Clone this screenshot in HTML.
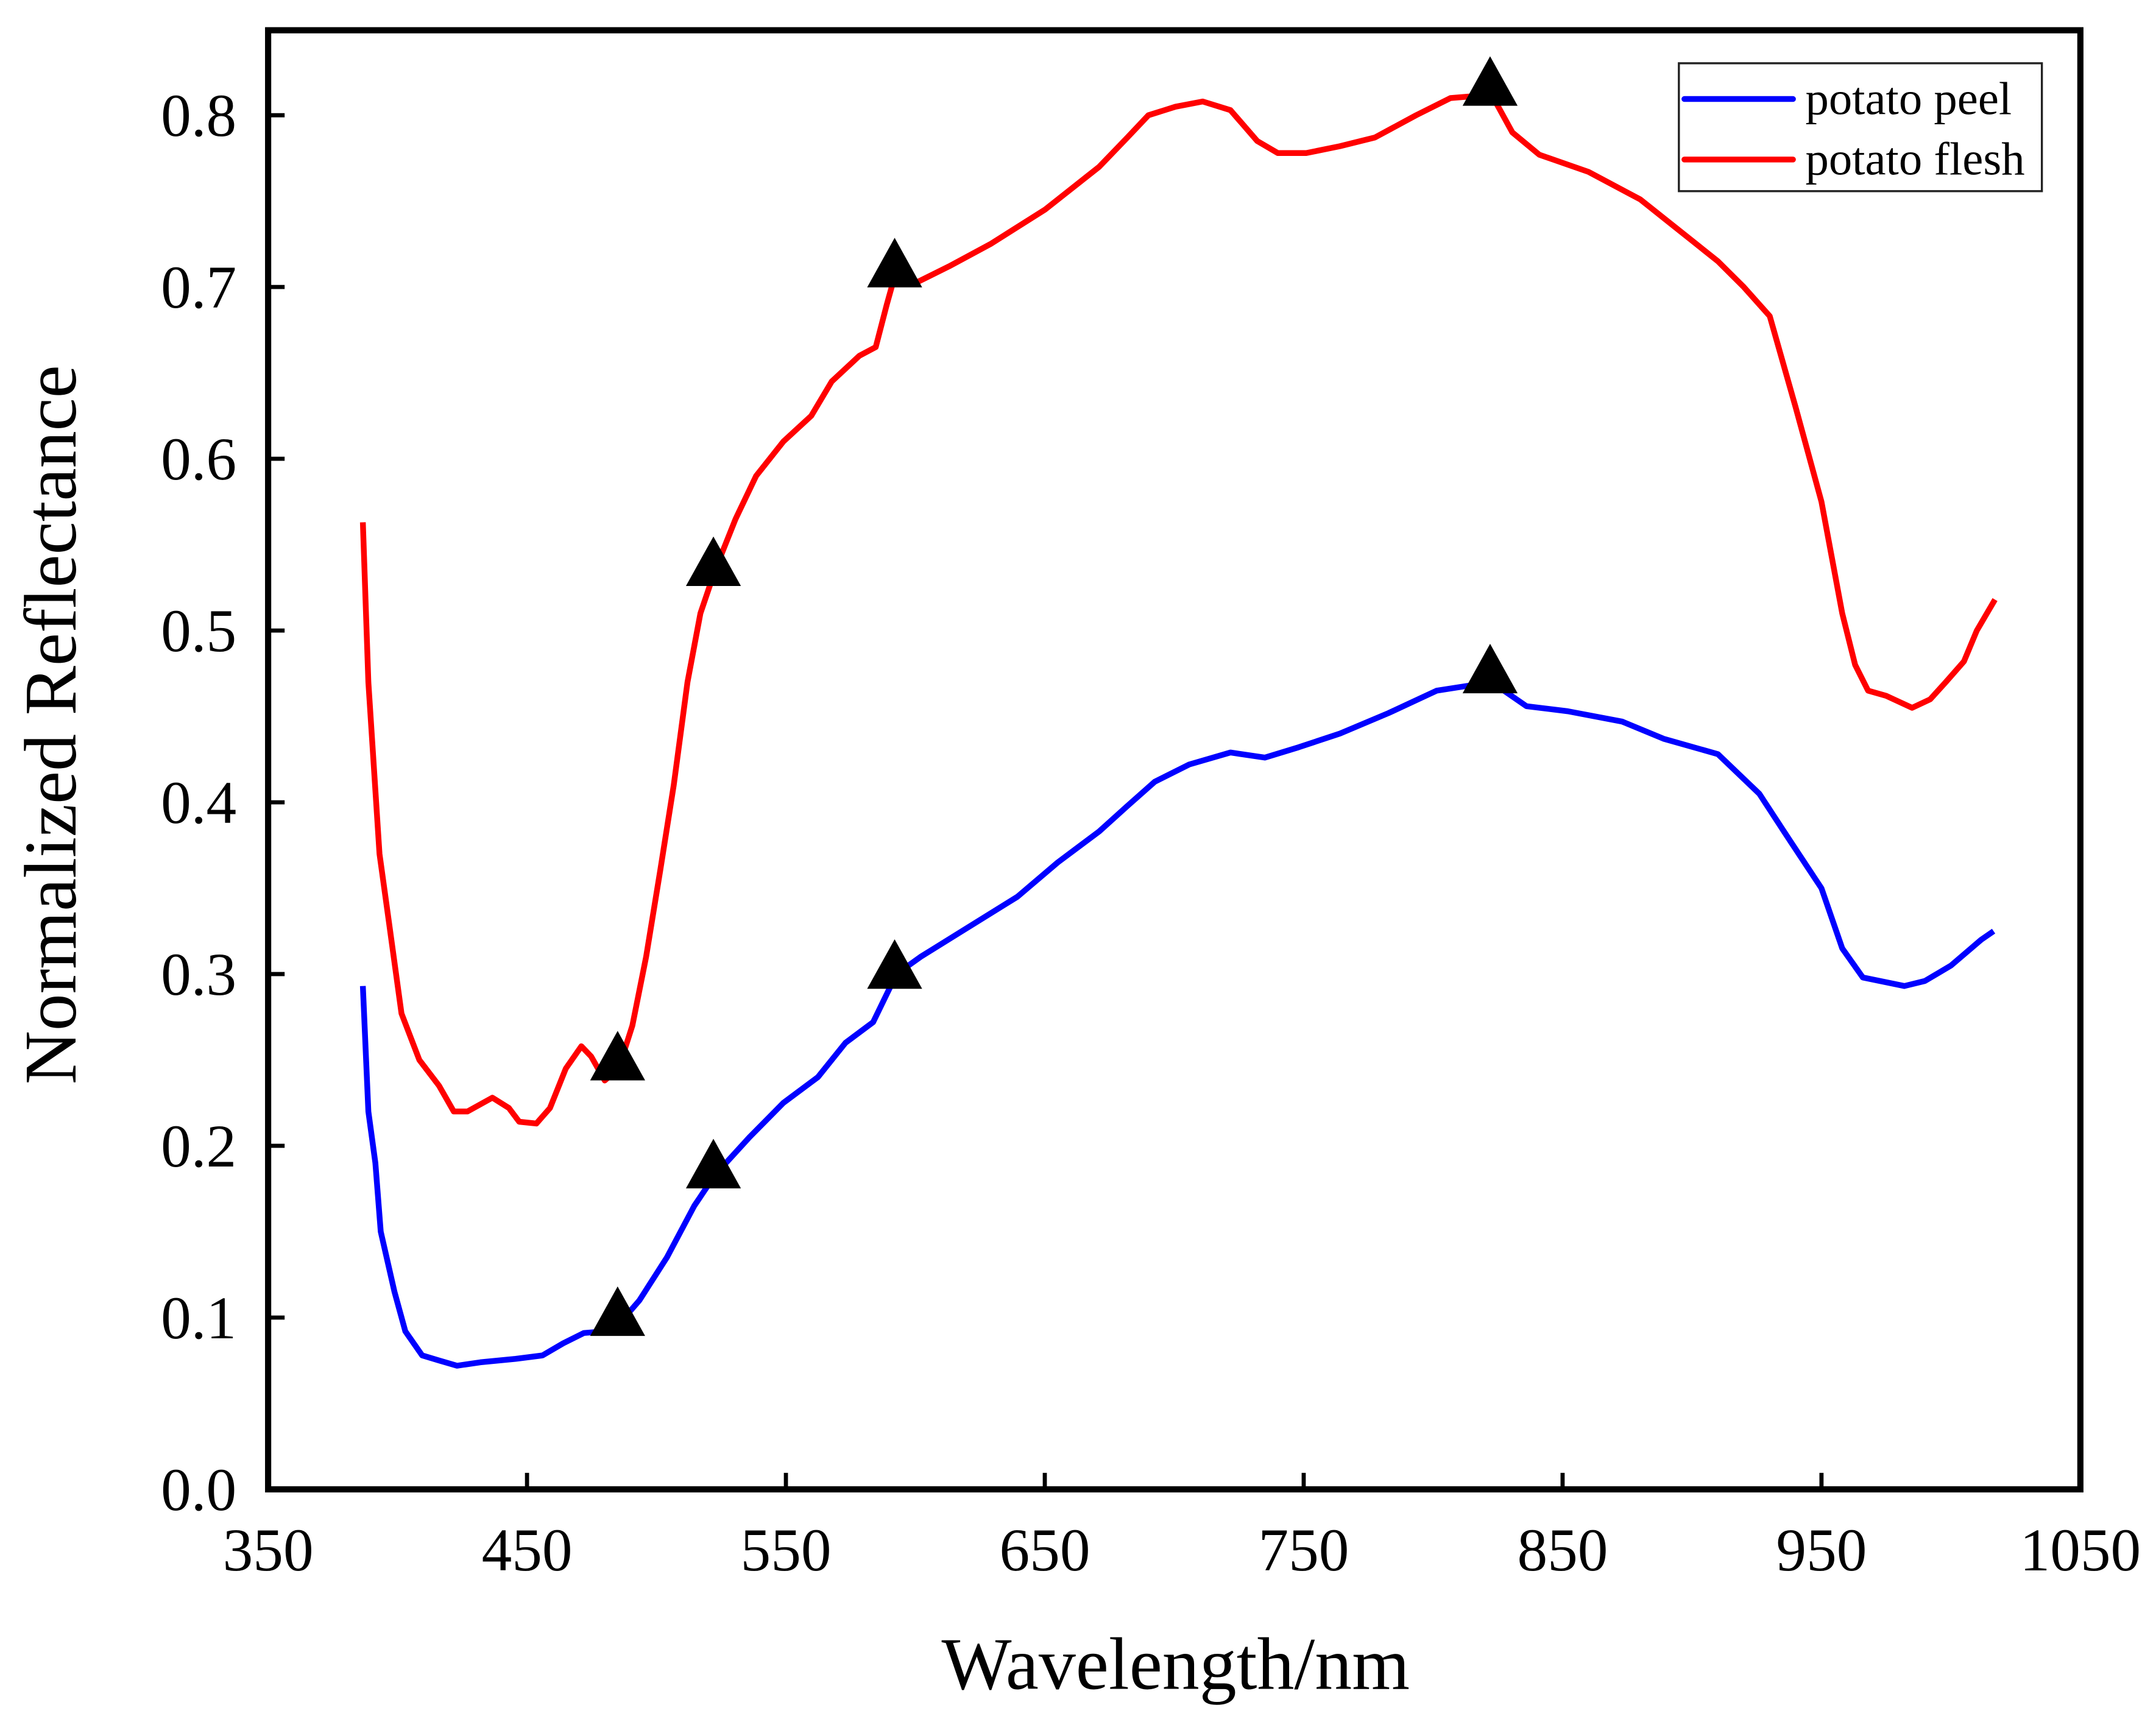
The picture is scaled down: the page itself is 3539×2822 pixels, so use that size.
<!DOCTYPE html>
<html><head><meta charset="utf-8">
<style>html,body{margin:0;padding:0;background:#fff;}svg{display:block;}</style>
</head><body>
<svg id="chart" xmlns="http://www.w3.org/2000/svg" width="3539" height="2822" viewBox="0 0 1568 1250" preserveAspectRatio="none" font-family="'Liberation Serif', serif">
<rect x="0" y="0" width="1568" height="1250" fill="#fff"/>
<g id="series"></g>
<g id="markers"></g>
<rect x="195" y="22" width="1318" height="1061" fill="none" stroke="#000" stroke-width="4.5"/>
<g id="ticks"></g>
<text x="855" y="1228" font-size="54" text-anchor="middle">Wavelength/nm</text>
<text transform="translate(55,527) rotate(-90)" font-size="54" text-anchor="middle">Normalized Reflectance</text>
<g>
<rect x="1221" y="46" width="264" height="93" fill="#fff" stroke="#222" stroke-width="1.5"/>
<line x1="1225" y1="72" x2="1304" y2="72" stroke="#0000ff" stroke-width="4.2" stroke-linecap="round"/>
<text x="1313" y="83" font-size="34">potato peel</text>
<line x1="1225" y1="116" x2="1304" y2="116" stroke="#ff0000" stroke-width="4.2" stroke-linecap="round"/>
<text x="1313" y="127" font-size="34">potato flesh</text>
</g>
</svg>
<script>
const xTicks = [350,450,550,650,750,850,950,1050];
const yTicks = [0.0,0.1,0.2,0.3,0.4,0.5,0.6,0.7,0.8];
const markerWl = [485,522,592,822];
const peelWl = [386.6,388.7,391.4,393.5,398.8,403,409.5,416,423,432,445.6,456,464,472,480,485.4,493.4,504,514.6,522.6,535.9,549,562.4,573,583.7,592.7,602,618,639.4,655,671,682,692.5,705.8,721.7,735,748,764,782.8,801.4,822.6,836,852,873,889,910,926,936.8,950,958,966,982,990,1000,1011.7,1016.5];
const peelVal = [0.293,0.22,0.19,0.15,0.115,0.092,0.078,0.075,0.072,0.074,0.076,0.078,0.085,0.091,0.092,0.096,0.11,0.135,0.165,0.183,0.205,0.225,0.24,0.26,0.272,0.3,0.31,0.325,0.345,0.365,0.383,0.398,0.412,0.422,0.429,0.426,0.432,0.44,0.452,0.465,0.47,0.456,0.453,0.447,0.437,0.428,0.405,0.38,0.35,0.315,0.298,0.293,0.296,0.305,0.32,0.325];
const fleshWl = [386.6,388.7,393,396.7,401.5,408.4,416,421.7,427,436.6,443,447,453.6,458.9,465,471,474.8,480,485.4,490.7,496,501.4,506.7,512,517,522.6,530.6,538.5,549,559.8,567.7,578.4,584.7,589,592.7,599.6,613,629,650,671,681.9,690,700.5,711,721.7,732,740,751,764,777.5,793.4,806.7,822.6,830.6,841,860,880,900,910,920,930,940,950,958,963,968,975,985,992,998,1005,1010,1017];
const fleshVal = [0.563,0.47,0.37,0.33,0.277,0.25,0.235,0.22,0.22,0.228,0.222,0.214,0.213,0.222,0.245,0.258,0.252,0.238,0.245,0.27,0.31,0.36,0.41,0.47,0.51,0.535,0.565,0.59,0.61,0.625,0.645,0.66,0.665,0.69,0.71,0.702,0.712,0.725,0.745,0.77,0.787,0.8,0.805,0.808,0.803,0.785,0.778,0.778,0.782,0.787,0.8,0.81,0.812,0.79,0.777,0.767,0.751,0.727,0.715,0.70,0.683,0.63,0.575,0.51,0.48,0.465,0.462,0.455,0.46,0.47,0.482,0.5,0.518];

const NS='http://www.w3.org/2000/svg';
const X0=195,X1=1513,Y0=1083,Y1=22;
function sx(w){return X0+(w-350)/700*(X1-X0);}
function sy(v){return Y0-v*1249;}
function interp(ws,vs,w){for(let i=0;i<ws.length-1;i++){if(w>=ws[i]&&w<=ws[i+1]){const t=(w-ws[i])/(ws[i+1]-ws[i]);return vs[i]+t*(vs[i+1]-vs[i]);}}return vs[vs.length-1];}
const gS=document.getElementById('series'),gM=document.getElementById('markers'),gT=document.getElementById('ticks');
function drawLine(ws,vs,color,name){
  const p=document.createElementNS(NS,'path');
  
  
  p.setAttribute('d',ws.map((w,i)=>(i?'L':'M')+sx(w).toFixed(1)+' '+sy(vs[i]).toFixed(1)).join(''));
  p.setAttribute('fill','none');p.setAttribute('stroke',color);p.setAttribute('stroke-width','4.2');p.setAttribute('stroke-linejoin','round');
  gS.appendChild(p);
}
drawLine(peelWl,peelVal,'#0000ff','peel-line');
drawLine(fleshWl,fleshVal,'#ff0000','flesh-line');
function drawMarkers(ws,vs,name){
  markerWl.forEach(w=>{
    const cx=sx(w),cy=sy(interp(ws,vs,w))-8;
    const t=document.createElementNS(NS,'polygon');
    
    
    t.setAttribute('points',`${cx},${cy-20} ${cx-20},${cy+16} ${cx+20},${cy+16}`);
    t.setAttribute('fill','#000');
    gM.appendChild(t);
  });
}
drawMarkers(peelWl,peelVal,'peel-marker');
drawMarkers(fleshWl,fleshVal,'flesh-marker');
xTicks.forEach(v=>{
  const x=sx(v);
  const l=document.createElementNS(NS,'line');
  
  
  l.setAttribute('x1',x);l.setAttribute('x2',x);l.setAttribute('y1',Y0);l.setAttribute('y2',Y0-12);
  l.setAttribute('stroke','#000');l.setAttribute('stroke-width','3');gT.appendChild(l);
  const t=document.createElementNS(NS,'text');
  
  
  t.setAttribute('x',x);t.setAttribute('y',1142);t.setAttribute('font-size','44');t.setAttribute('text-anchor','middle');
  t.textContent=v;gT.appendChild(t);
});
yTicks.forEach(v=>{
  const y=sy(v);
  const l=document.createElementNS(NS,'line');
  
  
  l.setAttribute('x1',X0);l.setAttribute('x2',X0+12);l.setAttribute('y1',y);l.setAttribute('y2',y);
  l.setAttribute('stroke','#000');l.setAttribute('stroke-width','3');gT.appendChild(l);
  const t=document.createElementNS(NS,'text');
  
  
  t.setAttribute('x',172);t.setAttribute('y',y+15);t.setAttribute('font-size','44');t.setAttribute('text-anchor','end');
  t.textContent=v.toFixed(1);gT.appendChild(t);
});
</script>
</body></html>
